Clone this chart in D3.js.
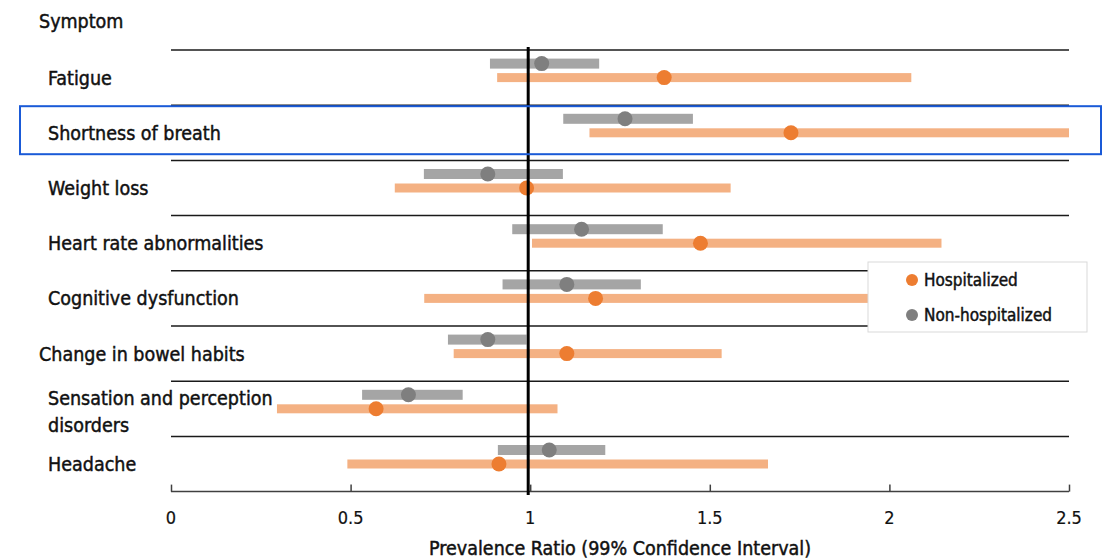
<!DOCTYPE html>
<html>
<head>
<meta charset="utf-8">
<script src="https://cdn.jsdelivr.net/npm/d3@7"></script>
<style>
  body { margin: 0; background: #fff; }
  svg { display: block; }
  text { font-family: "DejaVu Sans Condensed", "DejaVu Sans", sans-serif; font-stretch: condensed; fill: #111; stroke: #111; stroke-width: 0.45; }
</style>
</head>
<body>
<svg id="chart" width="1106" height="559"></svg>
<script>
const symptoms = ["Fatigue", "Shortness of breath", "Weight loss", "Heart rate abnormalities",
  "Cognitive dysfunction", "Change in bowel habits", "Sensation and perception disorders", "Headache"];

// Hospitalized: point estimate and 99% CI
const hospPR = [1.373, 1.726, 0.99, 1.474, 1.182, 1.102, 0.571, 0.913];
const hospLow = [0.908, 1.165, 0.623, 1.005, 0.705, 0.787, 0.295, 0.491];
const hospHigh = [2.061, 2.5, 1.558, 2.145, 2.15, 1.533, 1.076, 1.662];

// Non-hospitalized
const nonPR = [1.032, 1.264, 0.882, 1.143, 1.102, 0.882, 0.661, 1.053];
const nonLow = [0.888, 1.092, 0.704, 0.95, 0.923, 0.771, 0.532, 0.91];
const nonHigh = [1.192, 1.453, 1.091, 1.369, 1.308, 0.99, 0.812, 1.209];

const xTicks = [0, 0.5, 1, 1.5, 2, 2.5];
const highlighted = "Shortness of breath";

const svg = d3.select("#chart");

const x = d3.scaleLinear().domain([0, 2.5]).range([171, 1069]);
const y = d3.scaleBand().domain(symptoms).range([50, 491.6]);
const bw = y.bandwidth();

// separators between rows
svg.append("g")
  .selectAll("line")
  .data(symptoms)
  .join("line")
  .attr("x1", x(0))
  .attr("x2", x(2.5))
  .attr("y1", d => y(d))
  .attr("y2", d => y(d))
  .attr("stroke", "#1a1a1a")
  .attr("stroke-width", 1.5);

// x axis
const axis = svg.append("g")
  .attr("transform", `translate(0,${y.range()[1]})`)
  .call(d3.axisTop(x).tickValues(xTicks).tickSize(7).tickFormat(""));
axis.select(".domain").remove();
axis.selectAll(".tick line").attr("stroke", "#404040").attr("stroke-width", 1.5);
axis.append("line")
  .attr("x1", x(0))
  .attr("x2", x(2.5))
  .attr("stroke", "#404040")
  .attr("stroke-width", 1.5);

svg.append("g")
  .selectAll("text")
  .data(xTicks)
  .join("text")
  .attr("x", d => x(d))
  .attr("y", 524)
  .attr("text-anchor", "middle")
  .attr("font-size", 18)
  .style("stroke-width", 0.2)
  .text(d => d);

svg.append("text")
  .attr("x", (x(0) + x(2.5)) / 2)
  .attr("y", 555)
  .attr("text-anchor", "middle")
  .attr("font-size", 19.5)
  .text("Prevalence Ratio (99% Confidence Interval)");

// row labels
svg.append("text")
  .attr("x", 39)
  .attr("y", 28)
  .attr("font-size", 19.5)
  .text("Symptom");

symptoms.forEach(s => {
  const cy = y(s) + bw / 2;
  const t = svg.append("text")
    .attr("x", s === "Change in bowel habits" ? 39 : 48)
    .attr("font-size", 19.5);
  if (s === "Sensation and perception disorders") {
    t.append("tspan").attr("x", 48).attr("y", cy - 4).text("Sensation and perception");
    t.append("tspan").attr("x", 48).attr("y", cy + 23).text("disorders");
  } else {
    t.attr("y", cy + 7).text(s);
  }
});

// CI bars
const rows = svg.append("g");
symptoms.forEach((s, i) => {
  const cy = y(s) + bw / 2;
  rows.append("rect")
    .attr("x", x(nonLow[i]))
    .attr("y", cy - 14 - 5)
    .attr("width", x(nonHigh[i]) - x(nonLow[i]))
    .attr("height", 10)
    .attr("fill", "#a5a5a5");
  rows.append("rect")
    .attr("x", x(hospLow[i]))
    .attr("y", cy - 4.5)
    .attr("width", x(hospHigh[i]) - x(hospLow[i]))
    .attr("height", 9)
    .attr("fill", "#f4b183");
  rows.append("circle")
    .attr("cx", x(nonPR[i]))
    .attr("cy", cy - 14)
    .attr("r", 7.5)
    .attr("fill", "#7f7f7f");
  rows.append("circle")
    .attr("cx", x(hospPR[i]))
    .attr("cy", cy)
    .attr("r", 7.5)
    .attr("fill", "#ed7d31");
});

// reference line at 1
svg.append("line")
  .attr("x1", x(1) - 2)
  .attr("x2", x(1) - 2)
  .attr("y1", 47)
  .attr("y2", 495)
  .attr("stroke", "#000")
  .attr("stroke-width", 3);

// legend
const legend = svg.append("g");
legend.append("rect")
  .attr("x", 868)
  .attr("y", 262)
  .attr("width", 219)
  .attr("height", 70)
  .attr("fill", "#fff")
  .attr("stroke", "#d9d9d9");
[["Hospitalized", "#ed7d31", 280], ["Non-hospitalized", "#7f7f7f", 315]].forEach(([label, color, ly]) => {
  legend.append("circle").attr("cx", 912).attr("cy", ly).attr("r", 6).attr("fill", color);
  legend.append("text").attr("x", 924).attr("y", ly + 6).attr("font-size", 17).text(label);
});

// highlight box
svg.append("rect")
  .attr("x", 20)
  .attr("y", y(highlighted) + 1)
  .attr("width", 1081)
  .attr("height", 48)
  .attr("fill", "none")
  .attr("stroke", "#1a5ad7")
  .attr("stroke-width", 2);
</script>
</body>
</html>
